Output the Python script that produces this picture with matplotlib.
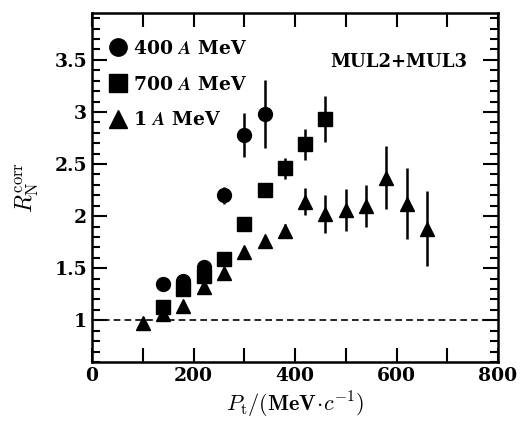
import matplotlib
matplotlib.use("Agg")
import matplotlib.pyplot as plt
from matplotlib.ticker import MultipleLocator, FixedLocator

plt.rcParams['mathtext.fontset'] = 'cm'
plt.rcParams['font.family'] = 'DejaVu Serif'
plt.rcParams['font.weight'] = 'bold'

# 400 A MeV (circles)
x400 = [140, 180, 220, 260, 300, 340]
y400 = [1.35, 1.38, 1.51, 2.20, 2.78, 2.98]
e400 = [0.03, 0.04, 0.04, 0.08, 0.21, 0.33]

# 700 A MeV (squares)
x700 = [140, 180, 220, 260, 300, 340, 380, 420, 460]
y700 = [1.13, 1.30, 1.43, 1.59, 1.92, 2.25, 2.46, 2.69, 2.93]
e700 = [0.03, 0.03, 0.03, 0.03, 0.03, 0.06, 0.10, 0.15, 0.22]

# 1 A MeV (triangles)
x1 = [100, 140, 180, 220, 260, 300, 340, 380, 420, 460, 500, 540, 580, 620, 660]
y1 = [0.97, 1.06, 1.14, 1.32, 1.45, 1.66, 1.76, 1.86, 2.14, 2.02, 2.06, 2.10, 2.37, 2.12, 1.88]
e1 = [0.02, 0.02, 0.02, 0.03, 0.03, 0.04, 0.05, 0.06, 0.13, 0.18, 0.20, 0.20, 0.30, 0.34, 0.36]

labels = ['400 $\\mathbfit{A}$ MeV', '700 $\\mathbfit{A}$ MeV', '1 $\\mathbfit{A}$ MeV']

fig = plt.figure(figsize=(5.2, 4.26), dpi=100)
ax = fig.add_axes([92/520, 1-362/426, (498-92)/520, (362-13)/426])

kw = dict(color='black', ecolor='black', elinewidth=1.8, capsize=0, linestyle='none', markersize=10)
h1 = ax.errorbar(x400, y400, yerr=e400, fmt='o', **kw)
h2 = ax.errorbar(x700, y700, yerr=e700, fmt='s', **kw)
h3 = ax.errorbar(x1, y1, yerr=e1, fmt='^', **kw)

ax.axhline(1.0, color='black', linestyle=(0, (4, 2.5)), linewidth=1.2)

ax.set_xlim(0, 800)
ax.set_ylim(0.6, 3.95)
ax.xaxis.set_major_locator(FixedLocator([0, 200, 400, 600, 800]))
ax.xaxis.set_minor_locator(MultipleLocator(100))
ax.yaxis.set_major_locator(FixedLocator([1, 1.5, 2, 2.5, 3, 3.5]))
ax.yaxis.set_minor_locator(MultipleLocator(0.1))
ax.set_yticklabels(['1', '1.5', '2', '2.5', '3', '3.5'])
ax.tick_params(which='both', direction='in', top=True, right=True, width=1.5, labelsize=13.5)
ax.tick_params(axis='x', which='both', length=10)
ax.tick_params(axis='y', which='major', length=11)
ax.tick_params(axis='y', which='minor', length=6)
for s in ax.spines.values():
    s.set_linewidth(1.8)

ax.set_xlabel('$P_{\\rm t}/(\\mathbf{MeV}\\!\\cdot\\! c^{-1})$', fontsize=16, labelpad=4)
ax.set_ylabel('$R_{\\rm N}^{\\rm corr}$', fontsize=17, labelpad=10)

ax.text(0.925, 0.86, 'MUL2+MUL3', transform=ax.transAxes, ha='right', va='center',
        fontsize=13, fontweight='bold')

leg = ax.legend([h1[0], h2[0], h3[0]], labels, loc='upper left', frameon=False,
                handlelength=0.9, handletextpad=0.35, labelspacing=0.95,
                borderaxespad=0.0, bbox_to_anchor=(0.025, 0.945),
                prop={'weight': 'bold', 'size': 13.5}, markerscale=1.25)

fig.savefig('out.png', dpi=100)
